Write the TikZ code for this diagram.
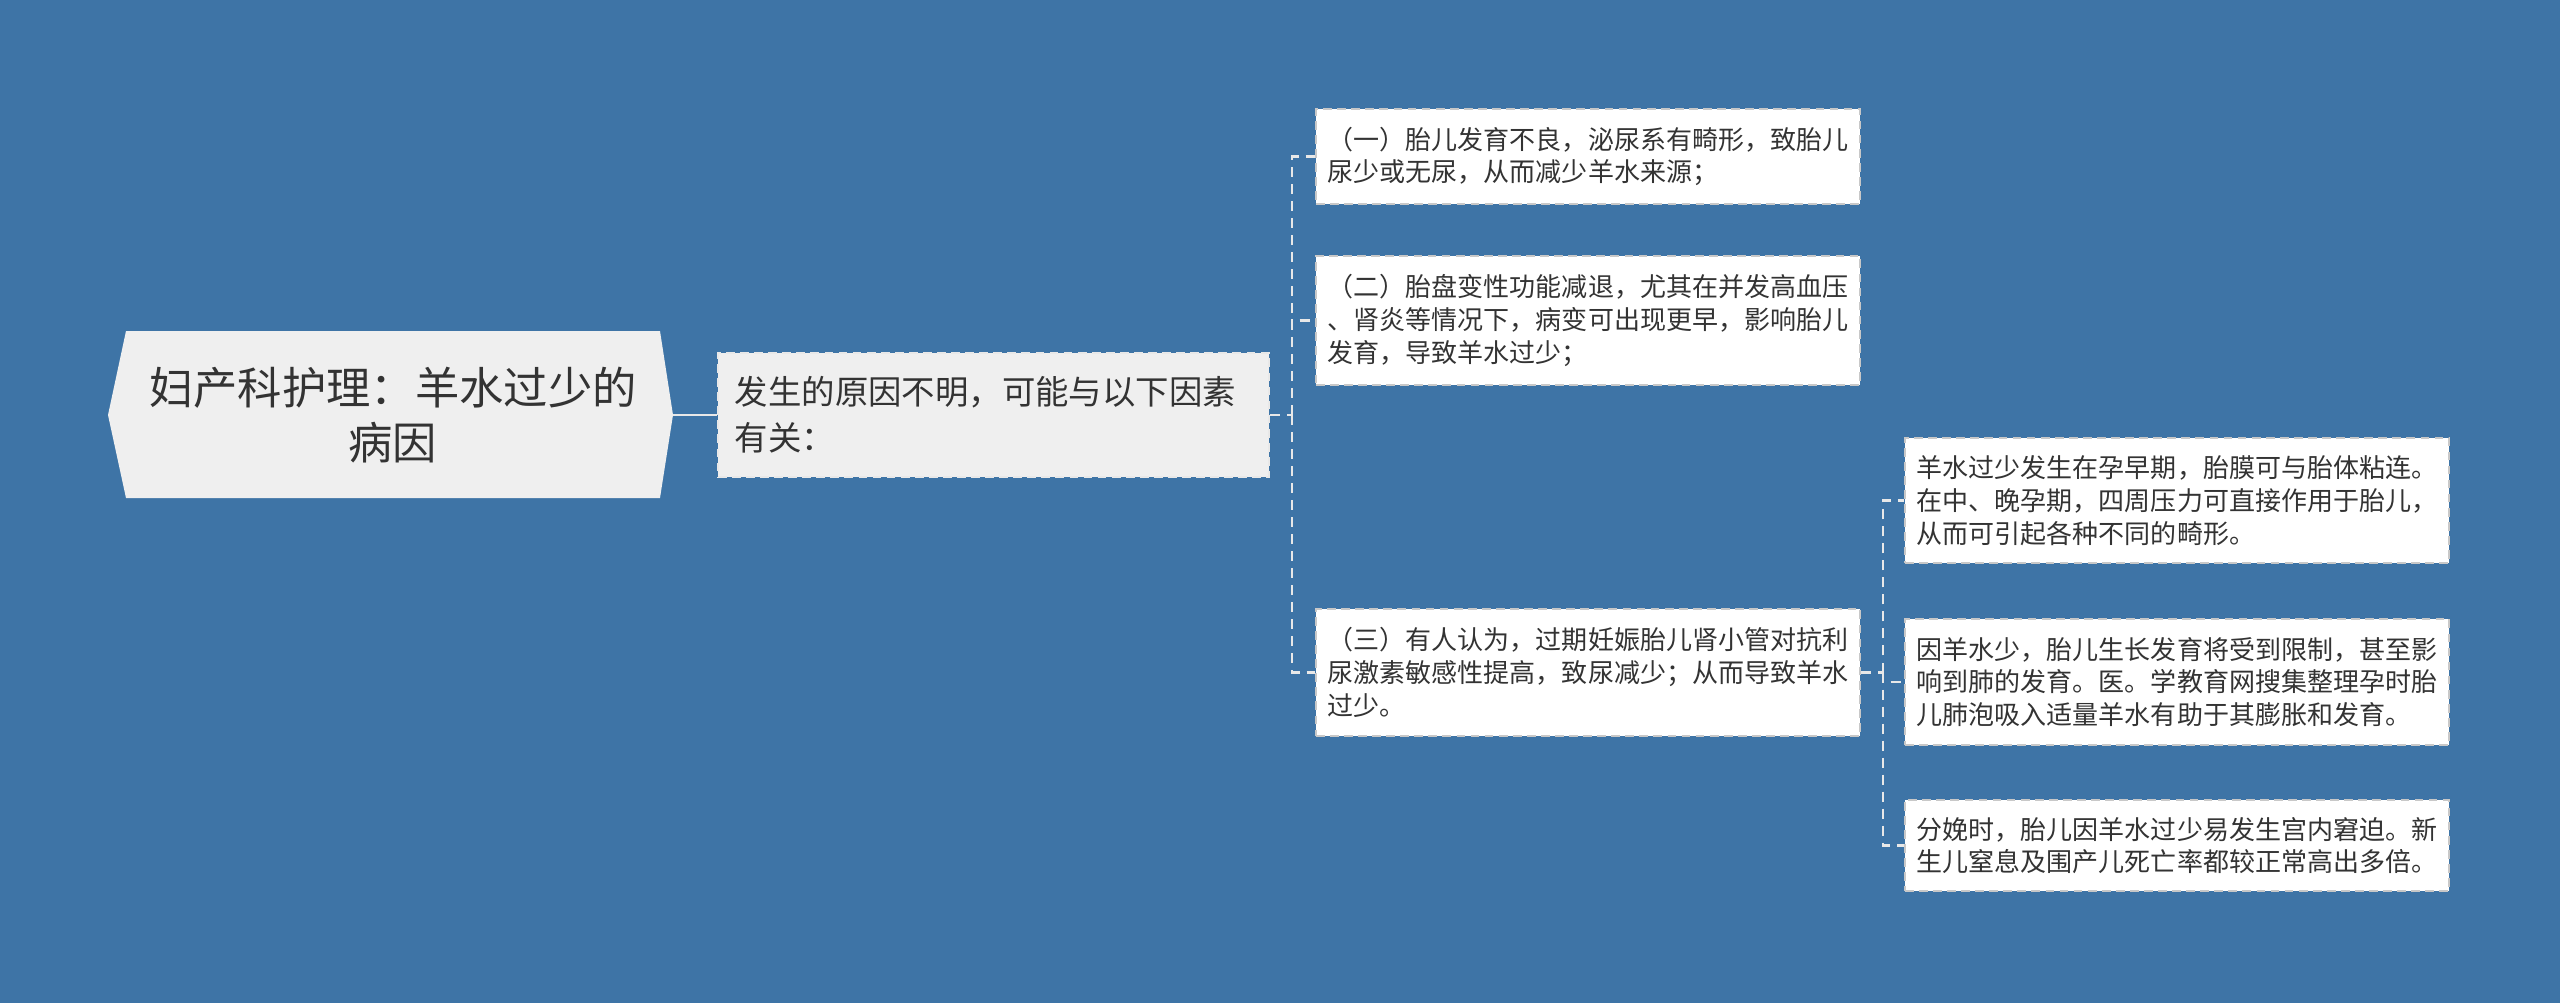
\documentclass[tikz,border=0pt]{standalone}
\usepackage{fontspec}
\setmainfont{Noto Sans CJK SC}
\definecolor{bg}{HTML}{3E74A6}
\definecolor{rootfill}{HTML}{EFEFEF}
\definecolor{txt}{HTML}{333333}
\definecolor{linec}{HTML}{E8E8E8}
\definecolor{boxline}{HTML}{C8C8C8}
\tikzset{
  conn/.style={draw=linec, line width=0.6pt},
  dconn/.style={conn, dash pattern=on 0.1cm off 0.07cm},
  leaf/.style={draw=boxline, fill=white, line width=0.6pt, dash pattern=on 2.5pt off 1.5pt,
    minimum width=5.44cm, align=left, text=txt, inner sep=0pt,
    font=\fontsize{7.4pt}{9.3pt}\selectfont},
  midbox/.style={draw=linec, fill=rootfill, line width=0.6pt, dash pattern=on 2.5pt off 1.5pt,
    minimum width=5.51cm, minimum height=1.24cm, text width=5.17cm, inner xsep=0.17cm, inner ysep=0pt,
    align=left, text=txt, font=\fontsize{9.5pt}{13pt}\selectfont},
  roottext/.style={align=center, text=txt, inner sep=0pt, font=\fontsize{12.6pt}{15.8pt}\selectfont}
}
\begin{document}
\begin{tikzpicture}[x=0.01cm,y=-0.01cm]
\fill[bg] (0,0) rectangle (2560,1003);
\useasboundingbox (0,0) rectangle (2560,1003);
% root
\fill[rootfill] (108,415) -- (126,331) -- (660,331) -- (673,415) -- (660,498) -- (126,498) -- cycle;
\node[roottext] (root) at (393,415) {妇产科护理：羊水过少的\\病因};
\coordinate (rootE) at (673,415);
% level 2
\node[midbox] (n2) at (993.5,415) {发生的原因不明，可能与以下因素\\有关：};
% level 3
\node[leaf, minimum height=0.95cm] (c1) at (1588,156.5) {（一）胎儿发育不良，泌尿系有畸形，致胎儿\\尿少或无尿，从而减少羊水来源；};
\node[leaf, minimum height=1.29cm] (c2) at (1588,320.5) {（二）胎盘变性功能减退，尤其在并发高血压\\、肾炎等情况下，病变可出现更早，影响胎儿\\发育，导致羊水过少；};
\node[leaf, minimum height=1.27cm] (c3) at (1588,672.5) {（三）有人认为，过期妊娠胎儿肾小管对抗利\\尿激素敏感性提高，致尿减少；从而导致羊水\\过少。};
% level 4
\node[leaf, minimum height=1.25cm] (g1) at (2177,500.5) {羊水过少发生在孕早期，胎膜可与胎体粘连。\\在中、晚孕期，四周压力可直接作用于胎儿，\\从而可引起各种不同的畸形。};
\node[leaf, minimum height=1.26cm] (g2) at (2177,682) {因羊水少，胎儿生长发育将受到限制，甚至影\\响到肺的发育。医。学教育网搜集整理孕时胎\\儿肺泡吸入适量羊水有助于其膨胀和发育。};
\node[leaf, minimum height=0.91cm] (g3) at (2177,845.5) {分娩时，胎儿因羊水过少易发生宫内窘迫。新\\生儿窒息及围产儿死亡率都较正常高出多倍。};
% connectors
\draw[conn] (rootE) -- (n2.west);
\coordinate (j1) at (1292,415);
\draw[dconn] (n2.east) -- (j1);
\draw[dconn] (j1) |- (c1.west);
\draw[dconn] (j1) |- (c2.west);
\draw[dconn] (j1) |- (c3.west);
\coordinate (j2) at (1883,672.5);
\draw[dconn] (c3.east) -- (j2);
\draw[dconn] (j2) |- (g1.west);
\draw[dconn] (j2) |- (g2.west);
\draw[dconn] (j2) |- (g3.west);
\end{tikzpicture}
\end{document}
